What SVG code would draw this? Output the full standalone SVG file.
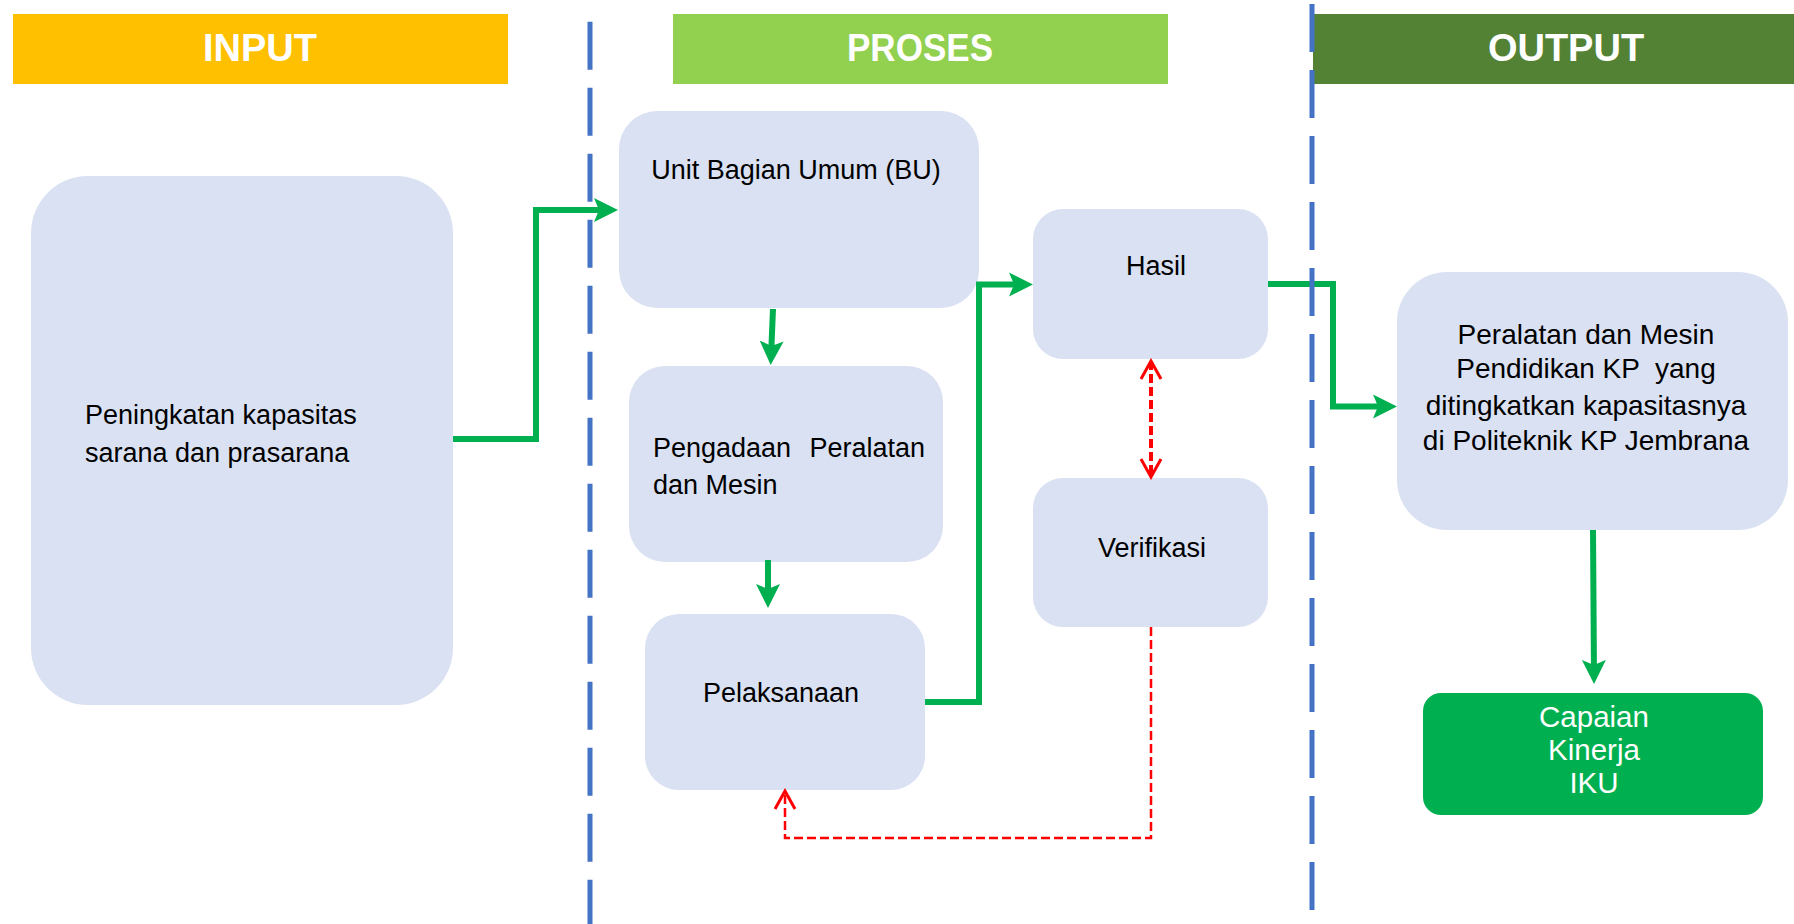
<svg xmlns="http://www.w3.org/2000/svg" width="1794" height="924" viewBox="0 0 1794 924">
<style>
.hdr{font-family:"Liberation Sans",Arial,sans-serif;font-weight:bold;font-size:38px;fill:#fff;text-anchor:middle}
.node{fill:#DAE1F2}
.t{font-family:"Liberation Sans",Arial,sans-serif;font-size:27px;fill:#000}
.c{text-anchor:middle}
.g{fill:none;stroke:#00B050;stroke-width:6}
.r{fill:none;stroke:#FF0000;stroke-width:3;stroke-dasharray:9 4}
.div{stroke:#4472C4;stroke-width:5;stroke-dasharray:48 18}
</style>
<defs>
<marker id="ga" markerUnits="userSpaceOnUse" markerWidth="26" markerHeight="26" viewBox="0 0 26 26" refX="16" refY="13" orient="auto">
<path d="M0,1 L24,13 L0,25 L5,13 Z" fill="#00B050"/>
</marker>
<marker id="ra" markerUnits="userSpaceOnUse" markerWidth="22" markerHeight="24" viewBox="0 0 22 24" refX="19" refY="12" orient="auto-start-reverse">
<path d="M1,2 L19,12 L1,22" fill="none" stroke="#FF0000" stroke-width="3"/>
</marker>
</defs>

<g id="headers">
<rect x="13" y="14" width="495" height="70" fill="#FFC000"/>
<text class="hdr" x="260" y="61">INPUT</text>
<rect x="673" y="14" width="495" height="70" fill="#92D050"/>
<text class="hdr" x="920" y="61" textLength="146" lengthAdjust="spacingAndGlyphs">PROSES</text>
<rect x="1313" y="14" width="481" height="70" fill="#548235"/>
<text class="hdr" x="1566" y="61">OUTPUT</text>
</g>

<g id="node-input">
<rect class="node" x="31" y="176" width="422" height="529" rx="57" ry="57"/>
<text class="t" x="85" y="424">Peningkatan kapasitas</text>
<text class="t" x="85" y="462">sarana dan prasarana</text>
</g>

<g id="node-bu">
<rect class="node" x="619" y="111" width="360" height="197" rx="38" ry="38"/>
<text class="t c" x="796" y="179">Unit Bagian Umum (BU)</text>
</g>

<g id="node-pengadaan">
<rect class="node" x="629" y="366" width="314" height="196" rx="36" ry="36"/>
<text class="t" x="653" y="457">Pengadaan</text>
<text class="t" x="925" y="457" text-anchor="end">Peralatan</text>
<text class="t" x="653" y="494">dan Mesin</text>
</g>

<g id="node-pelaksanaan">
<rect class="node" x="645" y="614" width="280" height="176" rx="34" ry="34"/>
<text class="t c" x="781" y="702">Pelaksanaan</text>
</g>

<g id="node-hasil">
<rect class="node" x="1033" y="209" width="235" height="150" rx="30" ry="30"/>
<text class="t c" x="1156" y="275">Hasil</text>
</g>

<g id="node-verifikasi">
<rect class="node" x="1033" y="478" width="235" height="149" rx="30" ry="30"/>
<text class="t c" x="1152" y="557">Verifikasi</text>
</g>

<g id="node-output">
<rect class="node" x="1397" y="272" width="391" height="258" rx="50" ry="50"/>
<text class="t c" style="font-size:28px" x="1586" y="344">Peralatan dan Mesin</text>
<text class="t c" style="font-size:28px;white-space:pre" x="1586" y="378">Pendidikan KP  yang</text>
<text class="t c" style="font-size:28px" x="1586" y="415">ditingkatkan kapasitasnya</text>
<text class="t c" style="font-size:28px" x="1586" y="450">di Politeknik KP Jembrana</text>
</g>

<g id="node-capaian">
<rect x="1423" y="693" width="340" height="122" rx="18" ry="18" fill="#00B050"/>
<text class="t c" style="font-size:29.5px;fill:#fff" x="1594" y="727">Capaian</text>
<text class="t c" style="font-size:29.5px;fill:#fff" x="1594" y="760">Kinerja</text>
<text class="t c" style="font-size:29.5px;fill:#fff" x="1594" y="793">IKU</text>
</g>

<g id="connectors">
<path class="g" d="M453,439 H536 V210 H610" marker-end="url(#ga)"/>
<path class="g" d="M773,309 L771,357" marker-end="url(#ga)"/>
<path class="g" d="M768,560 V600" marker-end="url(#ga)"/>
<path class="g" d="M925,702 H979 V284.5 H1025" marker-end="url(#ga)"/>
<path class="g" d="M1268,284 H1333 V406.5 H1389" marker-end="url(#ga)"/>
<path class="g" d="M1593,530 L1594,676" marker-end="url(#ga)"/>
<path class="r" style="stroke-width:4" d="M1151,361 V477" marker-start="url(#ra)" marker-end="url(#ra)"/>
<path class="r" style="stroke-width:2.5" d="M1151,627 V838 H785 V791" marker-end="url(#ra)"/>
</g>

<g id="dividers">
<line class="div" x1="590" y1="21.7" x2="590" y2="924"/>
<line class="div" x1="1312" y1="4" x2="1312" y2="910"/>
</g>
</svg>
